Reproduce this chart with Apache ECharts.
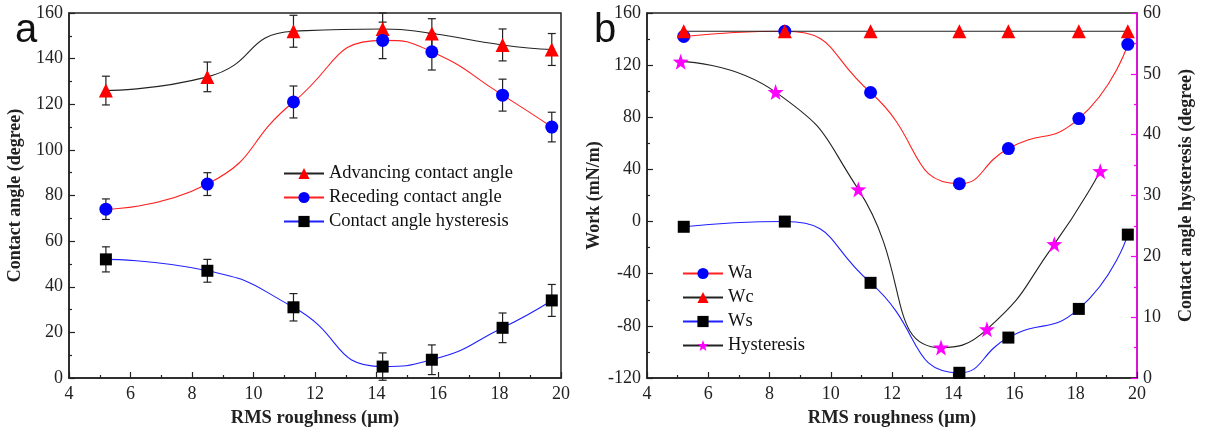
<!DOCTYPE html>
<html>
<head>
<meta charset="utf-8">
<script src="https://cdn.jsdelivr.net/npm/echarts@6/dist/echarts.min.js"></script>
<style>
html,body{margin:0;padding:0;background:#fff;}
#c{width:1209px;height:441px;}
</style>
</head>
<body>
<div id="c"></div>
<script>
// ---- data ----
const roughness = [5.2, 8.5, 11.3, 14.2, 15.8, 18.1, 19.7];
const advancing = [126, 132, 152, 153, 151, 146, 144];
const advancingErr = [6.3, 6.5, 7, 7, 6.5, 7, 7];
const receding = [74, 85, 121, 148, 143, 124, 110];
const recedingErr = [4.5, 5, 7, 8, 8, 7, 6.5];
const hysteresisA = [52, 47, 31, 5, 8, 22, 34];
const hysteresisErr = [5.5, 5, 6, 6, 6.5, 6.5, 7];
const wa = [142, 146, 99, 29, 56, 79, 136];
const wc = [146, 146, 146, 146, 146, 146, 146];
const ws = [-4, 0, -47, -116, -89, -67, -10];
const hysteresisX = [5.1, 8.2, 10.9, 13.6, 15.1, 17.3, 18.8];
const hysteresisB = [52, 47, 31, 5, 8, 22, 34];
const xTicks = {min: 4, max: 20, interval: 2};
const yTicksA = {min: 0, max: 160, interval: 20};
const yTicksWork = {min: -120, max: 160, interval: 40};
const yTicksHyst = {min: 0, max: 60, interval: 10};

const pairs = (xs, ys) => xs.map((x, i) => [x, ys[i]]);
const triples = (xs, ys, es) => xs.map((x, i) => [x, ys[i], es[i]]);

const SERIF = '"Liberation Serif", "Times New Roman", serif';
const AX = '#222';
const STAR = 'path://M12,0 L14.9,8.4 L24,8.6 L16.8,14.1 L19.4,22.8 L12,17.6 L4.6,22.8 L7.2,14.1 L0,8.6 L9.1,8.4 Z';

function errRender(params, api) {
  const x = api.value(0), y = api.value(1), e = api.value(2);
  const top = api.coord([x, y + e]);
  const bot = api.coord([x, y - e]);
  const w = 4;
  const st = {stroke: AX, lineWidth: 1.2};
  return {type: 'group', children: [
    {type: 'line', shape: {x1: top[0], y1: top[1], x2: bot[0], y2: bot[1]}, style: st},
    {type: 'line', shape: {x1: top[0] - w, y1: top[1], x2: top[0] + w, y2: top[1]}, style: st},
    {type: 'line', shape: {x1: bot[0] - w, y1: bot[1], x2: bot[0] + w, y2: bot[1]}, style: st}
  ]};
}

function xAxisCfg(gridIndex) {
  return {
    type: 'value', gridIndex: gridIndex, min: xTicks.min, max: xTicks.max, interval: xTicks.interval,
    name: 'RMS roughness (\u03bcm)', nameLocation: 'middle', nameGap: 31,
    nameTextStyle: {fontFamily: SERIF, fontSize: 18.5, fontWeight: 'bold', color: AX},
    axisLine: {onZero: false, lineStyle: {color: AX, width: 1.5}},
    axisTick: {inside: true, length: 6, lineStyle: {color: AX, width: 1.2}},
    minorTick: {show: true, splitNumber: 2, length: 3, lineStyle: {color: AX, width: 1.2}},
    axisLabel: {fontFamily: SERIF, fontSize: 18, color: AX, margin: 7},
    splitLine: {show: false}
  };
}

function yAxisCfg(gridIndex, t, name, opts) {
  opts = opts || {};
  const col = opts.color || AX;
  return {
    type: 'value', gridIndex: gridIndex, min: t.min, max: t.max, interval: t.interval,
    position: opts.position || 'left',
    name: name, nameLocation: 'middle', nameGap: opts.nameGap || 48, nameRotate: 90,
    nameTextStyle: {fontFamily: SERIF, fontSize: 18, fontWeight: 'bold', color: AX},
    axisLine: {show: true, onZero: false, lineStyle: {color: col, width: 1.5}},
    axisTick: {inside: true, length: 6, lineStyle: {color: col, width: 1.2}},
    minorTick: {show: true, splitNumber: 2, length: 3, lineStyle: {color: col, width: 1.2}},
    axisLabel: {fontFamily: SERIF, fontSize: 18, color: AX, margin: 6},
    splitLine: {show: false}
  };
}

function lineSeries(name, xi, yi, data, lineColor, symbol, symColor, size) {
  return {
    name: name, type: 'line', xAxisIndex: xi, yAxisIndex: yi, data: data,
    smooth: 0.55, symbol: symbol, symbolSize: size, showSymbol: true,
    lineStyle: {color: lineColor, width: 1.1},
    itemStyle: {color: symColor, borderWidth: 0},
    emphasis: {disabled: true}, z: 3, clip: true
  };
}

function errSeries(xi, yi, data) {
  return {type: 'custom', xAxisIndex: xi, yAxisIndex: yi, data: data, renderItem: errRender, z: 2, silent: true};
}

const chart = echarts.init(document.getElementById('c'), null, {renderer: 'canvas'});
const option = {
  backgroundColor: '#fff',
  animation: false,
  title: [
    {text: 'a', left: 10, top: 6, textStyle: {fontFamily: '"Liberation Sans", Arial, sans-serif', fontSize: 40, fontWeight: 'normal', color: '#111'}},
    {text: 'b', left: 589, top: 6, textStyle: {fontFamily: '"Liberation Sans", Arial, sans-serif', fontSize: 40, fontWeight: 'normal', color: '#111'}}
  ],
  grid: [
    {left: 69, top: 13, width: 492, height: 365, show: true, borderColor: AX, borderWidth: 1.5, backgroundColor: 'transparent'},
    {left: 647, top: 13, width: 490, height: 365, show: true, borderColor: AX, borderWidth: 1.5, backgroundColor: 'transparent'}
  ],
  legend: [
    {
      left: 283, top: 164, orient: 'vertical', padding: 0, itemWidth: 40, itemHeight: 14, itemGap: 5,
      textStyle: {fontFamily: SERIF, fontSize: 18.5, color: '#111'},
      data: ['Advancing contact angle', 'Receding contact angle', 'Contact angle hysteresis']
    },
    {
      left: 682, top: 264, orient: 'vertical', padding: 0, itemWidth: 40, itemHeight: 14, itemGap: 5,
      textStyle: {fontFamily: SERIF, fontSize: 18.5, color: '#111'},
      data: ['Wa', 'Wc', 'Ws', 'Hysteresis']
    }
  ],
  xAxis: [xAxisCfg(0), xAxisCfg(1)],
  yAxis: [
    yAxisCfg(0, yTicksA, 'Contact angle (degree)', {nameGap: 45}),
    yAxisCfg(1, yTicksWork, 'Work (mN/m)', {nameGap: 44}),
    yAxisCfg(1, yTicksHyst, 'Contact angle hysteresis (degree)', {position: 'right', color: '#ff00ff', nameGap: 40})
  ],
  series: [
    errSeries(0, 0, triples(roughness, advancing, advancingErr)),
    errSeries(0, 0, triples(roughness, receding, recedingErr)),
    errSeries(0, 0, triples(roughness, hysteresisA, hysteresisErr)),
    lineSeries('Advancing contact angle', 0, 0, pairs(roughness, advancing), '#222', 'triangle', '#ff0000', 14),
    lineSeries('Receding contact angle', 0, 0, pairs(roughness, receding), '#ff2020', 'circle', '#0000ff', 13),
    lineSeries('Contact angle hysteresis', 0, 0, pairs(roughness, hysteresisA), '#2020ff', 'rect', '#000000', 12),
    lineSeries('Wa', 1, 1, pairs(roughness, wa), '#ff2020', 'circle', '#0000ff', 13),
    lineSeries('Wc', 1, 1, pairs(roughness, wc), '#222', 'triangle', '#ff0000', 14),
    lineSeries('Ws', 1, 1, pairs(roughness, ws), '#2020ff', 'rect', '#000000', 12),
    lineSeries('Hysteresis', 1, 2, pairs(hysteresisX, hysteresisB), '#222', STAR, '#ff00ff', 16)
  ]
};
chart.setOption(option);
</script>
</body>
</html>
